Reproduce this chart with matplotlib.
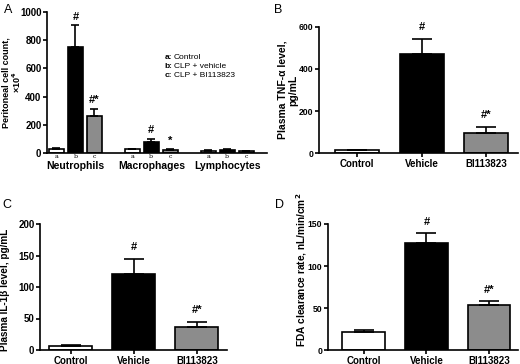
import matplotlib
matplotlib.use("Agg")
import matplotlib.pyplot as plt

plt.rcParams['font.family'] = ['Liberation Sans', 'DejaVu Sans']
plt.rcParams['font.weight'] = 'bold'
plt.rcParams['axes.linewidth'] = 1.2

# --- data ---
groups = ["Neutrophils", "Macrophages", "Lymphocytes"]
sub_labels = ["a", "b", "c"]
cells_mean = [[30, 750, 262], [25, 80, 22], [15, 20, 12]]
cells_err = [[5, 155, 50], [5, 20, 5], [4, 5, 3]]
cells_marks = [["", "#", "#*"], ["", "#", "*"], ["", "", ""]]
legend_lines = [("a", "Control"), ("b", "CLP + vehicle"), ("c", "CLP + BI113823")]

treat = ["Control", "Vehicle", "BI113823"]
tnf_mean = [12, 470, 97]
tnf_err = [3, 75, 28]
il1_mean = [6, 120, 37]
il1_err = [1.5, 25, 8]
fda_mean = [21, 127, 54]
fda_err = [3, 12, 4]
marks = ["", "#", "#*"]

colors = ["white", "black", "#8c8c8c"]

W, H = 520, 364
fig = plt.figure(figsize=(W / 100, H / 100), dpi=100)


def px_axes(x0, y0, x1, y1):
    return fig.add_axes([x0 / W, 1 - y1 / H, (x1 - x0) / W, (y1 - y0) / H])


def style(ax, ysize=7):
    ax.spines['top'].set_visible(False)
    ax.spines['right'].set_visible(False)
    ax.tick_params(axis='both', labelsize=7, width=1.2, length=3, pad=1)
    ax.tick_params(axis='y', labelsize=ysize)
    for lab in ax.get_yticklabels():
        lab.set_fontweight('bold')


def bar_panel(ax, mean, err, ymax, yticks, xlim, width, ylabel, label_xy, label_size, ysize):
    xs = list(range(len(mean)))
    ax.bar(xs, mean, width=width, color=colors, edgecolor="black", linewidth=1.2,
           yerr=[[0] * len(err), err], capsize=7, error_kw=dict(elinewidth=1.2, capthick=1.2))
    for x, m, e, t in zip(xs, mean, err, marks):
        if t:
            ax.text(x, m + e + ymax * 0.05, t, ha="center", va="bottom", fontsize=8, fontweight="bold")
    ax.set_xlim(*xlim)
    ax.set_ylim(0, ymax)
    ax.set_yticks(yticks)
    ax.set_xticks(xs)
    ax.set_xticklabels(treat, fontsize=7, fontweight="bold")
    ax.set_ylabel(ylabel, fontsize=label_size, fontweight="bold", linespacing=1.05)
    ax.yaxis.set_label_coords(*label_xy)
    style(ax, ysize)


# --- Panel A ---
axA = px_axes(47, 12, 267, 153)
for g in range(3):
    for i in range(3):
        x = g * 4 + i - 1
        axA.bar(x, cells_mean[g][i], width=0.8, color=colors[i], edgecolor="black", linewidth=1.2,
                yerr=[[0], [cells_err[g][i]]], capsize=3, error_kw=dict(elinewidth=1.2, capthick=1.2))
        if cells_marks[g][i]:
            axA.text(x, cells_mean[g][i] + cells_err[g][i] + 25, cells_marks[g][i],
                     ha="center", va="bottom", fontsize=8, fontweight="bold")
axA.set_xlim(-1.5, 10.1)
axA.set_ylim(0, 1000)
axA.set_yticks([0, 200, 400, 600, 800, 1000])
axA.set_xticks([g * 4 + i - 1 for g in range(3) for i in range(3)])
axA.set_ylabel("Peritoneal cell count,\n×10$^\\mathbf{4}$", fontsize=6.5, fontweight="bold",
               linespacing=1.0)
axA.yaxis.set_label_coords(-0.11, 0.5)
style(axA)
axA.set_xticklabels(sub_labels * 3, fontsize=4.5, family="DejaVu Serif", fontweight="normal")
axA.tick_params(axis='x', length=0, pad=0.5)
for g, name in enumerate(groups):
    axA.text(g * 4, -0.06, name, transform=axA.get_xaxis_transform(), ha="center", va="top",
             fontsize=7.5, fontweight="bold")
for k, (key, txt) in enumerate(legend_lines):
    axA.text(0.535, 0.68 - k * 0.065, key + ":", transform=axA.transAxes, fontsize=6,
             fontweight="bold", va="center")
    axA.text(0.575, 0.68 - k * 0.065, txt, transform=axA.transAxes, fontsize=6,
             fontweight="normal", va="center")

# --- Panel B ---
axB = px_axes(319, 27, 518, 153)
bar_panel(axB, tnf_mean, tnf_err, 600, [0, 200, 400, 600], (-0.59, 2.49), 0.68,
          "Plasma TNF-α level,\npg/mL", (-0.105, 0.5), 7.5, 6.2)

# --- Panel C ---
axC = px_axes(40, 224, 227, 350)
bar_panel(axC, il1_mean, il1_err, 200, [0, 50, 100, 150, 200], (-0.49, 2.48), 0.68,
          "Plasma IL-1β level, pg/mL", (-0.16, 0.48), 7.2, 7)

# --- Panel D ---
axD = px_axes(328, 224, 518, 350)
bar_panel(axD, fda_mean, fda_err, 150, [0, 50, 100, 150], (-0.57, 2.46), 0.68,
          "FDA clearance rate, nL/min/cm$^\\mathbf{2}$", (-0.10, 0.64), 7.3, 6.2)

# panel letters
for letter, x, y in [("A", 4, 10), ("B", 274, 10), ("C", 2, 205), ("D", 275, 205)]:
    fig.text(x / W, 1 - y / H, letter, fontsize=9, fontweight="normal", va="center")

fig.savefig("out.png", dpi=100)
